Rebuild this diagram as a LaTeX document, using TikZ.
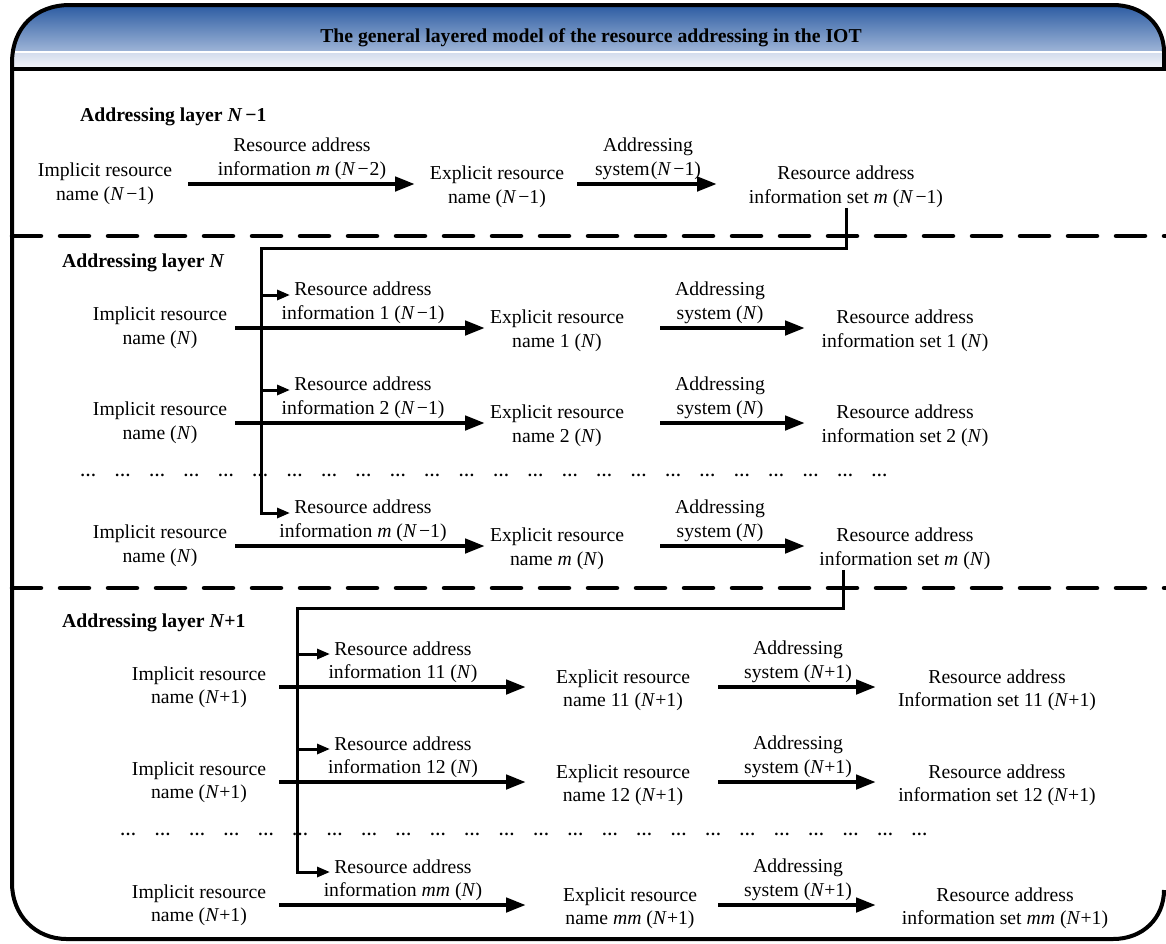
\documentclass[tikz,border=0pt]{standalone}
\usepackage{fontspec}
\setmainfont{Liberation Serif}
\usetikzlibrary{arrows.meta,calc}
\definecolor{hdtop}{RGB}{44,92,162}
\definecolor{hdmid}{RGB}{186,202,228}
\definecolor{hdloa}{RGB}{210,219,236}
\definecolor{hdlob}{RGB}{243,245,250}
\newcommand\bodyfont{\fontsize{19.7}{23.5}\selectfont}
\newcommand\NN{\textit{N}}
\newcommand\myells{\foreach \k in {1,...,24}{…\hspace{18.4pt}}}
\begin{document}
\begin{tikzpicture}[x=1pt,y=-1pt,
  txt/.style={align=center, inner sep=0pt, font=\bodyfont},
  head/.style={anchor=west, inner sep=0pt, font=\bodyfont\bfseries},
  dotsrow/.style={anchor=west, inner sep=0pt, font=\fontsize{16}{18}\selectfont\bfseries},
  arr/.style={line width=4.5pt, -{Triangle[length=20pt,width=14pt]}},
  brarr/.style={line width=3pt, -{Triangle[length=13pt,width=10pt]}},
  sep/.style={line width=4.5pt, dash pattern=on 29pt off 19pt, line cap=round},
  frame/.style={line width=4pt}]
\useasboundingbox (0,0) rectangle (1166,943);
% header
\shade[top color=hdtop, bottom color=hdmid] (12,52) -- (12,63) .. controls (12,27) and (36,5) .. (70,5) -- (1113,5) .. controls (1142,5) and (1164,24) .. (1164,52) -- cycle;
\shade[top color=hdloa, bottom color=hdlob] (12,52) rectangle (1166,68);
\draw[white, line width=1.5pt] (12,52) -- (1164,52);
\draw[line width=3.5pt] (12,69) -- (1166,69);
\draw[frame] (1164,69) -- (1164,52) .. controls (1164,24) and (1142,5) .. (1113,5) -- (70,5) .. controls (36,5) and (12,27) .. (12,63) -- (12,883) .. controls (12,915) and (35,939) .. (67,939) -- (1113,939) .. controls (1143,939) and (1164,918) .. (1164,890);
\node[inner sep=0pt, font=\bodyfont\bfseries] (title) at (591,38) {The general layered model of the resource addressing in the IOT};
% separators
\draw[sep] (12,236) -- (1166,236);
\draw[sep] (12,588) -- (1166,588);
% column coordinates
\coordinate (cA1) at (188,0); \coordinate (cA2) at (415,0);
\coordinate (cA3) at (577,0); \coordinate (cA4) at (717,0);
\coordinate (cB1) at (235,0); \coordinate (cB2) at (485,0);
\coordinate (cB3) at (660,0); \coordinate (cB4) at (805,0);
\coordinate (cC1) at (279,0); \coordinate (cC2) at (526,0);
\coordinate (cC3) at (718,0); \coordinate (cC4) at (876,0);
% ===== layer N-1
\node[head] (h1) at (80,117) {Addressing layer \NN\hspace{3pt}−1};
\node[txt] (i1) at (105,184) {Implicit resource\\name (\NN\hspace{2pt}−1)};
\node[txt] (e1) at (497,187) {Explicit resource\\name (\NN\hspace{2pt}−1)};
\node[txt] (r1) at (846,187) {Resource address\\information set \textit{m} (\NN\hspace{2pt}−1)};
\node[txt] (l1a) at (302,159) {Resource address\\information \textit{m} (\NN\hspace{2pt}−\hspace{1pt}2)};
\node[txt] (l1b) at (648,159) {Addressing\\system\hspace{1pt}(\NN\hspace{2pt}−1)};
\draw[arr] (i1 -| cA1) -- (i1 -| cA2);
\draw[arr] (i1 -| cA3) -- (i1 -| cA4);
% ===== layer N
\node[head] (h2) at (62,263) {Addressing layer \NN};
\node[txt] (i21) at (160,328) {Implicit resource\\name (\NN)};
\node[txt] (i22) at (160,423) {Implicit resource\\name (\NN)};
\node[txt] (i23) at (160,546) {Implicit resource\\name (\NN)};
\node[txt] (e21) at (557,331) {Explicit resource\\name 1 (\NN)};
\node[txt] (e22) at (557,426) {Explicit resource\\name 2 (\NN)};
\node[txt] (e23) at (557,549) {Explicit resource\\name \textit{m} (\NN)};
\node[txt] (r21) at (905,331) {Resource address\\information set 1 (\NN)};
\node[txt] (r22) at (905,426) {Resource address\\information set 2 (\NN)};
\node[txt] (r23) at (905,549) {Resource address\\information set \textit{m} (\NN)};
\node[txt] (s21) at (720,303) {Addressing\\system (\NN)};
\node[txt] (s22) at (720,398) {Addressing\\system (\NN)};
\node[txt] (s23) at (720,521) {Addressing\\system (\NN)};
\node[txt] (b21) at (363,303) {Resource address\\information 1 (\NN\hspace{2pt}−1)};
\node[txt] (b22) at (363,398) {Resource address\\information 2 (\NN\hspace{2pt}−1)};
\node[txt] (b23) at (363,521) {Resource address\\information \textit{m} (\NN\hspace{2pt}−1)};
\coordinate (vNtop) at (261,248);
\coordinate (k21) at (290,295);
\coordinate (k22) at (290,390);
\coordinate (k23) at (290,513);
\draw[brarr] (r1.south) |- (vNtop) |- (k23);
\draw[brarr] (vNtop |- k21) -- (k21);
\draw[brarr] (vNtop |- k22) -- (k22);
\foreach \r in {21,22,23}{
  \draw[arr] (i\r -| cB1) -- (i\r -| cB2);
  \draw[arr] (i\r -| cB3) -- (i\r -| cB4);
}
\node[dotsrow] (d2) at (80,475) {\myells};
% ===== layer N+1
\node[head] (h3) at (62,623) {Addressing layer \NN+1};
\node[txt] (i31) at (199,687) {Implicit resource\\name (\NN+1)};
\node[txt] (i32) at (199,782) {Implicit resource\\name (\NN+1)};
\node[txt] (i33) at (199,905) {Implicit resource\\name (\NN+1)};
\node[txt] (e31) at (623,690) {Explicit resource\\name 11 (\NN+1)};
\node[txt] (e32) at (623,785) {Explicit resource\\name 12 (\NN+1)};
\node[txt] (e33) at (630,908) {Explicit resource\\name \textit{mm} (\NN+1)};
\node[txt] (r31) at (997,690) {Resource address\\Information set 11 (\NN+1)};
\node[txt] (r32) at (997,785) {Resource address\\information set 12 (\NN+1)};
\node[txt] (r33) at (1005,908) {Resource address\\information set \textit{mm} (\NN+1)};
\node[txt] (s31) at (798,662) {Addressing\\system (\NN+1)};
\node[txt] (s32) at (798,757) {Addressing\\system (\NN+1)};
\node[txt] (s33) at (798,880) {Addressing\\system (\NN+1)};
\node[txt] (b31) at (403,662) {Resource address\\information 11 (\NN)};
\node[txt] (b32) at (403,757) {Resource address\\information 12 (\NN)};
\node[txt] (b33) at (403,880) {Resource address\\information \textit{mm} (\NN)};
\coordinate (vPtop) at (297,608);
\coordinate (k31) at (330,654);
\coordinate (k32) at (330,749);
\coordinate (k33) at (330,872);
\draw[brarr] ($(r23.south)+(-62,0)$) |- (vPtop) |- (k33);
\draw[brarr] (vPtop |- k31) -- (k31);
\draw[brarr] (vPtop |- k32) -- (k32);
\foreach \r in {31,32,33}{
  \draw[arr] (i\r -| cC1) -- (i\r -| cC2);
  \draw[arr] (i\r -| cC3) -- (i\r -| cC4);
}
\node[dotsrow] (d3) at (120,834) {\myells};
\end{tikzpicture}
\end{document}
